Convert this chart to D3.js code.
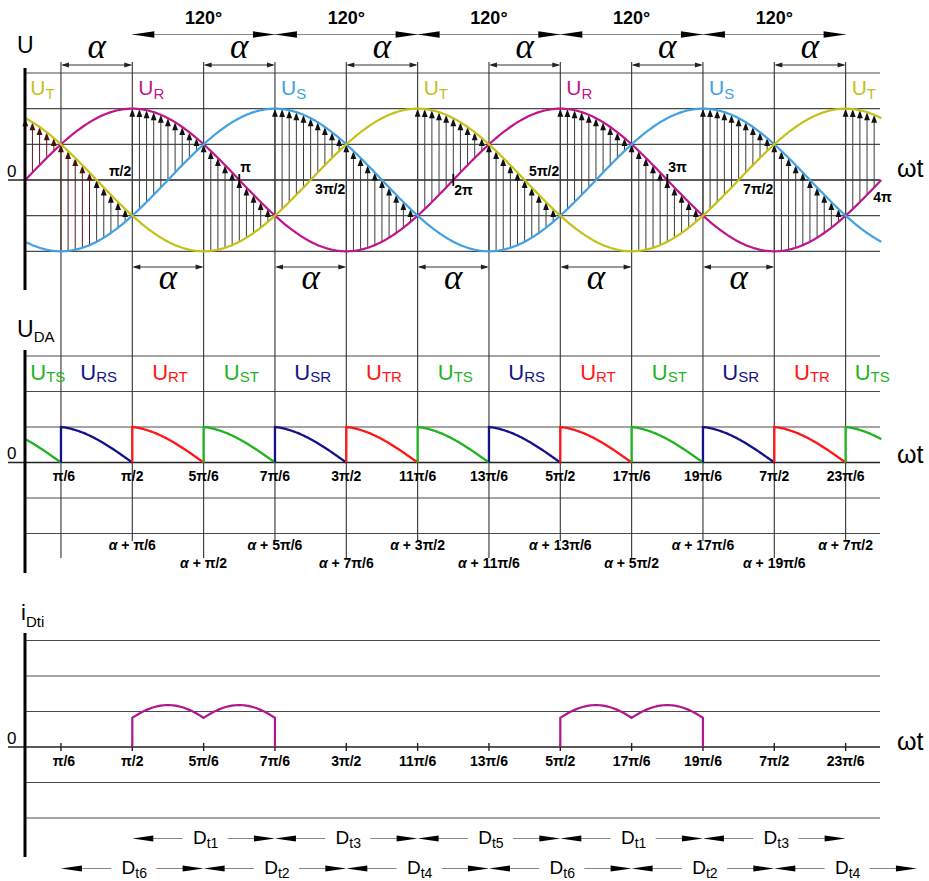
<!DOCTYPE html>
<html><head><meta charset="utf-8">
<script src="https://cdn.jsdelivr.net/npm/d3@7"></script>
<style>body{margin:0;background:#fff}</style>
</head><body>
<svg id="c" width="929" height="881"></svg>
<script>
const PI = Math.PI;
// ---------- data ----------
const phaseNames = ["R", "S", "T"];
const phaseShiftDeg = [0, -120, 120];
const phaseColors = ["#c0168a", "#40a2e2", "#c5c118"];
// conduction intervals, in units of π/6
const upperBreaks = [0, 3, 7, 11, 15, 19, 23, 24];
const upperPhase = ["T", "R", "S", "T", "R", "S", "T"];
const lowerBreaks = [0, 1, 5, 9, 13, 17, 21, 24];
const lowerPhase = ["R", "S", "T", "R", "S", "T", "R"];
const hatchStepDeg = 6;
const hatchDarkUntilDeg = 60;
const topGrid = [1.5, 1, 0.5, 0, -0.5, -1];
const topAngleLabels = ["π/2", "π", "3π/2", "2π", "5π/2", "3π", "7π/2", "4π"];
const spanLabel120 = ["120°", "120°", "120°", "120°", "120°"];
const alphaTopSpans = [[1, 3], [5, 7], [9, 11], [13, 15], [17, 19], [21, 23]];
const alphaBottomSpans = [[3, 5], [7, 9], [11, 13], [15, 17], [19, 21]];

const udaLabels = ["TS", "RS", "RT", "ST", "SR", "TR", "TS", "RS", "RT", "ST", "SR", "TR", "TS"];
const udaColorOf = {TS: "#1fb41f", ST: "#1fb41f", RS: "#12128a", SR: "#12128a", RT: "#ff1515", TR: "#ff1515"};
const udaPeak = 1;
const udaShapeStartPi = 0.55;
const midGrid = [3, 2, 1, 0, -1, -2];
const tickLabels = ["π/6", "π/2", "5π/6", "7π/6", "3π/2", "11π/6", "13π/6", "5π/2", "17π/6", "19π/6", "7π/2", "23π/6"];
const alphaTickLabels = ["π/6", "π/2", "5π/6", "7π/6", "3π/2", "11π/6", "13π/6", "5π/2", "17π/6", "19π/6", "7π/2"];

const botGrid = [3, 2, 1, 0, -1, -2];
const pulseStarts = [3, 15];   // units of π/6
const pulseHumps = 2;
const pulseHumpLen = 2;        // units of π/6
const pulseEdge = 0.82;
const pulsePeak = 1.18;
const dRow1Start = 3, dRow1Labels = ["t1", "t3", "t5", "t1", "t3"];
const dRow2Start = 1, dRow2Labels = ["t6", "t2", "t4", "t6", "t2", "t4"];

// ---------- scales ----------
const u6 = PI / 6;
const x = d3.scaleLinear().domain([0, 4 * PI]).range([25.3, 881.3]);
const yTop = d3.scaleLinear().domain([-1, 1.5]).range([251.3, 73]);
const yMid = d3.scaleLinear().domain([-2, 3]).range([533.5, 356]);
const yBot = d3.scaleLinear().domain([-2, 3]).range([818, 640.5]);
const F = "'Liberation Sans', Arial, Helvetica, sans-serif";
const svg = d3.select("#c");
const xEnd = 880;

function phaseVal(name, th) {
  const i = phaseNames.indexOf(name);
  return Math.sin(th + phaseShiftDeg[i] * PI / 180);
}
function phaseColor(name) { return phaseColors[phaseNames.indexOf(name)]; }
function pick(breaks, names, u) {
  for (let i = 0; i < names.length; i++) if (u >= breaks[i] - 1e-9 && u < breaks[i + 1] - 1e-9) return names[i];
  return names[names.length - 1];
}
function head(g, tx, ty, dir, len, half, color) {
  let pts;
  if (dir === "up") pts = [[tx, ty], [tx - half, ty + len], [tx + half, ty + len]];
  else if (dir === "left") pts = [[tx, ty], [tx + len, ty - half], [tx + len, ty + half]];
  else pts = [[tx, ty], [tx - len, ty - half], [tx - len, ty + half]];
  g.append("polygon").attr("points", pts.map(p => p.join(",")).join(" ")).attr("fill", color);
}
function hgrid(g, ys, vals) {
  vals.forEach(v => {
    g.append("line").attr("x1", v === 0 ? 8 : 26).attr("x2", xEnd)
      .attr("y1", ys(v)).attr("y2", ys(v))
      .attr("stroke", v === 0 ? "#222" : "#4a4a4a").attr("stroke-width", v === 0 ? 1.6 : 1.2);
  });
}
function subText(g, px, py, main, sub, o) {
  const t = g.append("text").attr("x", px).attr("y", py).attr("font-family", F)
    .attr("fill", o.color || "#000").attr("text-anchor", o.anchor || "start");
  t.append("tspan").attr("font-size", o.size).text(main);
  t.append("tspan").attr("font-size", o.subSize).attr("dy", o.dy).text(sub);
  return t;
}

const gGrid = svg.append("g");
hgrid(gGrid, yTop, topGrid);
hgrid(gGrid, yMid, midGrid);
hgrid(gGrid, yBot, botGrid);

// vertical grid lines through top & middle panels
tickLabels.forEach((lab, i) => {
  const xv = x((2 * i + 1) * u6);
  const yEnd = (i % 2 === 1) ? 541 : 558;
  gGrid.append("line").attr("x1", xv).attr("x2", xv).attr("y1", 62).attr("y2", yEnd)
    .attr("stroke", "#333").attr("stroke-width", 1.1);
});

// ---------- top panel ----------
const gTop = svg.append("g");
// hatch arrows
for (let k = 0; k * hatchStepDeg < 720; k++) {
  const deg = k * hatchStepDeg;
  const th = deg * PI / 180;
  const u = th / u6;
  const up = pick(upperBreaks, upperPhase, u);
  const lo = pick(lowerBreaks, lowerPhase, u);
  const y1 = yTop(phaseVal(lo, th)), y2 = yTop(phaseVal(up, th));
  const dark = deg < hatchDarkUntilDeg;
  const lc = dark ? "#5a1c1c" : "#3c3c3c", hc = dark ? "#4a1010" : "#111";
  const xv = x(th);
  if (y1 - y2 > 8) {
    gTop.append("line").attr("x1", xv).attr("x2", xv).attr("y1", y1).attr("y2", y2 + 6)
      .attr("stroke", lc).attr("stroke-width", 1);
  }
  head(gTop, xv, y2, "up", 8, 2.9, hc);
}
// phase curves
const thetas = d3.range(0, 4 * PI + 1e-6, 4 * PI / 600);
phaseNames.forEach(n => {
  gTop.append("path").attr("d", d3.line().x(t => x(t)).y(t => yTop(phaseVal(n, t)))(thetas))
    .attr("fill", "none").attr("stroke", phaseColor(n)).attr("stroke-width", 2.2);
});
// ticks at multiples of π
[1, 2, 3].forEach(m => {
  gTop.append("line").attr("x1", x(m * PI)).attr("x2", x(m * PI)).attr("y1", yTop(0) - 6).attr("y2", yTop(0) + 6)
    .attr("stroke", "#000").attr("stroke-width", 1.8);
});
// phase labels
upperPhase.forEach((n, i) => {
  const xv = x(upperBreaks[i] * u6) + (i === 0 ? 5 : 6);
  subText(gTop, xv, 95, "U", n, {color: phaseColor(n), size: 21, subSize: 15, dy: 4});
});
// angle labels
topAngleLabels.forEach((lab, i) => {
  const k = i + 1;
  const xv = x(k * PI / 2);
  let anchor, px, py;
  if (k % 2 === 1) { anchor = "end"; px = xv - 1; py = yTop(0) + (k % 4 === 1 ? -4 : 14); }
  else { anchor = "start"; px = (k === 8 ? xv - 8 : xv + 1); py = yTop(0) + (k % 4 === 2 ? -8 : (k === 8 ? 22 : 15)); }
  gTop.append("text").attr("x", px).attr("y", py).attr("text-anchor", anchor)
    .attr("font-family", F).attr("font-weight", "bold").attr("font-size", 14).text(lab);
});
// 120° arrows
spanLabel120.forEach((lab, i) => {
  const s = x((3 + 4 * i) * u6), e = x((7 + 4 * i) * u6);
  gTop.append("line").attr("x1", s).attr("x2", e).attr("y1", 34.5).attr("y2", 34.5).attr("stroke", "#888").attr("stroke-width", 1);
  head(gTop, s, 34.5, "left", 22, 3.2, "#000");
  head(gTop, e, 34.5, "right", 22, 3.2, "#000");
  gTop.append("text").attr("x", (s + e) / 2).attr("y", 24).attr("text-anchor", "middle")
    .attr("font-family", F).attr("font-weight", "bold").attr("font-size", 18).text(lab);
});
// α arrows
function alphaArrow(span, yl, yt) {
  const s = x(span[0] * u6), e = x(span[1] * u6);
  gTop.append("line").attr("x1", s + 2).attr("x2", e - 2).attr("y1", yl).attr("y2", yl).attr("stroke", "#333").attr("stroke-width", 1);
  head(gTop, s, yl, "left", 8, 2.6, "#222");
  head(gTop, e, yl, "right", 8, 2.6, "#222");
  gTop.append("text").attr("x", (s + e) / 2).attr("y", yt).attr("text-anchor", "middle")
    .attr("font-family", "'Liberation Serif', 'Times New Roman', serif").attr("font-style", "italic")
    .attr("font-size", 35).text("α");
}
alphaTopSpans.forEach(sp => alphaArrow(sp, 65, 58));
alphaBottomSpans.forEach(sp => alphaArrow(sp, 267, 289));

// ---------- middle panel ----------
const gMid = svg.append("g");
const aS = udaShapeStartPi * PI;
udaLabels.forEach((lab, k) => {
  const s = (2 * k - 1) * u6, e = s + 2 * u6;
  const a = Math.max(s, 0), b = Math.min(e, 4 * PI);
  const pts = [];
  if (s >= 0) pts.push([s, 0]);
  d3.range(0, 61).forEach(j => {
    const th = a + (b - a) * j / 60;
    const t = (th - s) / (e - s);
    pts.push([th, udaPeak * Math.sin(aS + (PI - aS) * t) / Math.sin(aS)]);
  });
  gMid.append("path").attr("d", d3.line().x(p => x(p[0])).y(p => yMid(p[1]))(pts))
    .attr("fill", "none").attr("stroke", udaColorOf[lab]).attr("stroke-width", 2.3);
  let lx, anchor;
  if (k === 0) { lx = x(0) + 5; anchor = "start"; }
  else if (k === udaLabels.length - 1) { lx = x(s) + 9; anchor = "start"; }
  else { lx = x((s + e) / 2) + 2; anchor = "middle"; }
  subText(gMid, lx, 380, "U", lab, {color: udaColorOf[lab], anchor: anchor, size: 22, subSize: 15, dy: 2});
});
tickLabels.forEach((lab, i) => {
  const xv = x((2 * i + 1) * u6);
  gMid.append("text").attr("x", xv + (i === 0 ? 3 : 0)).attr("y", 481).attr("text-anchor", "middle")
    .attr("font-family", F).attr("font-weight", "bold").attr("font-size", 14).text(lab);
  if (i >= 1) {
    const t = gMid.append("text").attr("x", xv).attr("y", i % 2 === 1 ? 550 : 568).attr("text-anchor", "middle")
      .attr("font-family", F).attr("font-weight", "bold").attr("font-size", 14);
    t.append("tspan").attr("font-style", "italic").text("α");
    t.append("tspan").text(" + " + alphaTickLabels[i - 1]);
  }
});

// ---------- bottom panel ----------
const gBot = svg.append("g");
tickLabels.forEach((lab, i) => {
  const xv = x((2 * i + 1) * u6);
  gBot.append("line").attr("x1", xv).attr("x2", xv).attr("y1", yBot(0) - 4).attr("y2", yBot(0) + 4)
    .attr("stroke", "#222").attr("stroke-width", 1.4);
  gBot.append("text").attr("x", xv + (i === 0 ? 3 : 0)).attr("y", 766).attr("text-anchor", "middle")
    .attr("font-family", F).attr("font-weight", "bold").attr("font-size", 14).text(lab);
});
const th0 = Math.asin(pulseEdge / pulsePeak);
pulseStarts.forEach(ps => {
  const pts = [[ps * u6, 0]];
  for (let h = 0; h < pulseHumps; h++) {
    const s = (ps + h * pulseHumpLen) * u6;
    d3.range(0, 41).forEach(j => {
      const t = j / 40;
      pts.push([s + t * pulseHumpLen * u6, pulsePeak * Math.sin(th0 + (PI - 2 * th0) * t)]);
    });
  }
  pts.push([(ps + pulseHumps * pulseHumpLen) * u6, 0]);
  gBot.append("path").attr("d", d3.line().x(p => x(p[0])).y(p => yBot(p[1]))(pts))
    .attr("fill", "none").attr("stroke", "#b0168e").attr("stroke-width", 2.2);
});
function dRow(start, labels, yl, yt) {
  labels.forEach((lab, i) => {
    const s = x((start + 4 * i) * u6), e = x((start + 4 * (i + 1)) * u6);
    const c = (s + e) / 2 + 2;
    gBot.append("line").attr("x1", s + 10).attr("x2", c - 23).attr("y1", yl).attr("y2", yl).attr("stroke", "#888").attr("stroke-width", 1);
    gBot.append("line").attr("x1", c + 22).attr("x2", e - 10).attr("y1", yl).attr("y2", yl).attr("stroke", "#888").attr("stroke-width", 1);
    head(gBot, s, yl, "left", 21, 3, "#000");
    head(gBot, e, yl, "right", 21, 3, "#000");
    subText(gBot, c, yt, "D", lab, {anchor: "middle", size: 19, subSize: 14, dy: 4});
  });
}
dRow(dRow1Start, dRow1Labels, 838.5, 844);
dRow(dRow2Start, dRow2Labels, 868.5, 874);

// ---------- axes & axis labels ----------
const gAx = svg.append("g");
[[68, 290], [350, 573], [633, 857]].forEach(r => {
  gAx.append("line").attr("x1", 25).attr("x2", 25).attr("y1", r[0]).attr("y2", r[1]).attr("stroke", "#000").attr("stroke-width", 3);
});
gAx.append("text").attr("x", 17).attr("y", 53).attr("font-family", F).attr("font-size", 23).text("U");
subText(gAx, 17, 337, "U", "DA", {size: 23, subSize: 15, dy: 5});
subText(gAx, 21, 620, "i", "Dti", {size: 22, subSize: 15, dy: 7});
[[177], [459], [744]].forEach(r => {
  gAx.append("text").attr("x", 7).attr("y", r[0]).attr("font-family", F).attr("font-size", 17).text("0");
});
[177, 463, 750].forEach(yy => {
  gAx.append("text").attr("x", 897).attr("y", yy).attr("font-family", F).attr("font-size", 25).text("ωt");
});
</script>
</body></html>
